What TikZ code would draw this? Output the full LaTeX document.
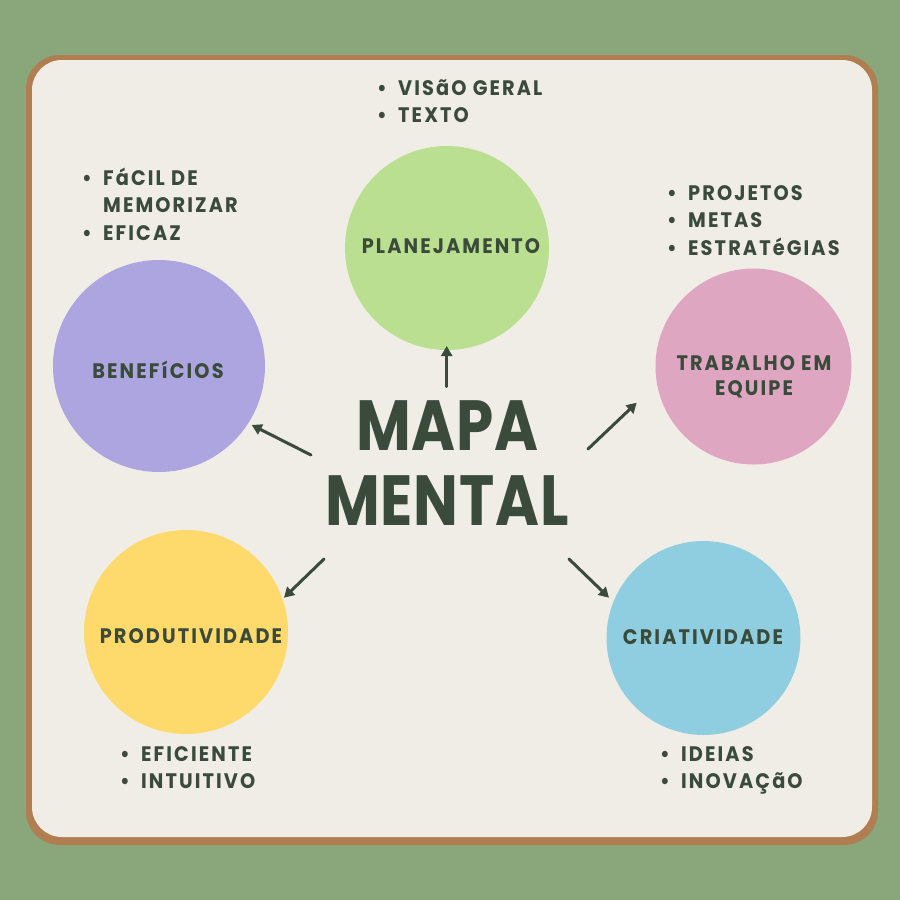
\documentclass[tikz,border=0pt]{standalone}
\usepackage{fontspec}
\usetikzlibrary{arrows.meta}
\newfontfamily\hand{Poppins}[UprightFont={* Bold}, LetterSpace=10, FakeStretch=0.92]
\newfontfamily\handbig{Poppins}[UprightFont={* Bold}, LetterSpace=1, FakeStretch=0.84]
\newcommand\bul{\makebox[21pt][l]{•}}
\definecolor{bggreen}{HTML}{8AA67B}
\definecolor{framebrown}{HTML}{B07E50}
\definecolor{panelfill}{HTML}{F0EDE6}
\definecolor{ink}{HTML}{3A4A3B}
\definecolor{cgreen}{HTML}{BBDF90}
\definecolor{cpurple}{HTML}{ACA5DF}
\definecolor{cpink}{HTML}{DFA6C1}
\definecolor{cyellow}{HTML}{FED96B}
\definecolor{cblue}{HTML}{8ECEE0}
\begin{document}
\begin{tikzpicture}[x=1pt,y=-1pt,
  bubble/.style={circle, inner sep=0pt, draw=none},
  lbl/.style={font=\hand\fontsize{21}{25}\selectfont, text=ink, align=center, inner sep=0pt},
  lst/.style={font=\hand\fontsize{21}{27.5}\selectfont, text=ink, anchor=base west, inner sep=0pt},
  arr/.style={draw=ink, line width=3pt, line cap=round, -{Triangle[length=10pt,width=11pt]}, fill=ink}]
\useasboundingbox (0,0) rectangle (900,900);
\fill[bggreen] (0,0) rectangle (900,900);
\fill[framebrown, rounded corners=34pt] (26,55) rectangle (878,845);
\fill[panelfill, rounded corners=30pt] (32,60) rectangle (872,837);

% circles
\node[bubble, fill=cgreen, minimum size=204pt] (plan) at (447,248) {};
\node[bubble, fill=cpurple, minimum size=212pt] (benef) at (159,366) {};
\node[bubble, fill=cpink, minimum size=196pt] (trab) at (753.5,366.5) {};
\node[bubble, fill=cyellow, minimum size=204pt] (prod) at (186,632) {};
\node[bubble, fill=cblue, minimum size=194pt] (criat) at (703.5,638) {};

% circle labels
\node[lbl] (plan-t) at (451,246.5) {PLANEJAMENTO};
\node[lbl] (benef-t) at (158,370) {BENEFíCIOS};
\node[lbl] (trab-t) at (754,377) {TRABALHO EM\\EQUIPE};
\node[lbl] (prod-t) at (191,636) {PRODUTIVIDADE};
\node[lbl] (criat-t) at (703,637.5) {CRIATIVIDADE};

% title
\node[font=\handbig\fontsize{71}{75}\selectfont, text=ink, align=center, inner sep=0pt] (title) at (447,463.5) {MAPA\\MENTAL};

% lists
\node[lst] (plan-l) at (377,95) {\begin{tabular}[t]{@{}l@{}l@{}}\bul&VISãO GERAL\\\bul&TEXTO\end{tabular}};
\node[lst] (benef-l) at (82,185) {\begin{tabular}[t]{@{}l@{}l@{}}\bul&FáCIL DE\\&MEMORIZAR\\\bul&EFICAZ\end{tabular}};
\node[lst] (trab-l) at (667,200) {\begin{tabular}[t]{@{}l@{}l@{}}\bul&PROJETOS\\\bul&METAS\\\bul&ESTRATéGIAS\end{tabular}};
\node[lst] (prod-l) at (120,761) {\begin{tabular}[t]{@{}l@{}l@{}}\bul&EFICIENTE\\\bul&INTUITIVO\end{tabular}};
\node[lst] (criat-l) at (660,761) {\begin{tabular}[t]{@{}l@{}l@{}}\bul&IDEIAS\\\bul&INOVAÇãO\end{tabular}};

% arrows
\coordinate (a1s) at (446.7,386.7); \coordinate (a1e) at (446.7,346);
\coordinate (a2s) at (311,455);     \coordinate (a2e) at (251.7,425);
\coordinate (a3s) at (588,449);     \coordinate (a3e) at (636.7,402.7);
\coordinate (a4s) at (324,559);     \coordinate (a4e) at (284,597.7);
\coordinate (a5s) at (569,559);     \coordinate (a5e) at (609,597.7);
\draw[arr] (a1s) -- (a1e);
\draw[arr] (a2s) -- (a2e);
\draw[arr] (a3s) -- (a3e);
\draw[arr] (a4s) -- (a4e);
\draw[arr] (a5s) -- (a5e);
\end{tikzpicture}
\end{document}
